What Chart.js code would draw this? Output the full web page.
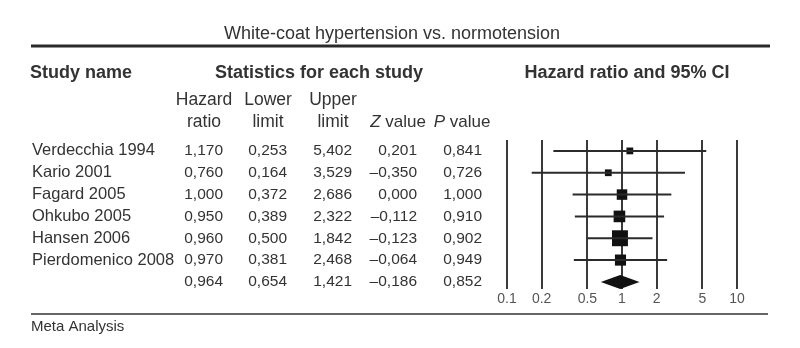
<!DOCTYPE html>
<html>
<head>
<meta charset="utf-8">
<script src="https://cdn.jsdelivr.net/npm/chart.js"></script>
<style>
  body { margin: 0; background: #fff; }
  canvas { display: block; }
</style>
</head>
<body>
<canvas id="forest-chart" width="800" height="348"></canvas>
<script>
// Values
const studies = ["Verdecchia 1994", "Kario 2001", "Fagard 2005", "Ohkubo 2005", "Hansen 2006", "Pierdomenico 2008"];
const hazardRatio = [1.170, 0.760, 1.000, 0.950, 0.960, 0.970];
const lowerLimit = [0.253, 0.164, 0.372, 0.389, 0.500, 0.381];
const upperLimit = [5.402, 3.529, 2.686, 2.322, 1.842, 2.468];
const zValue = [0.201, -0.350, 0.000, -0.112, -0.123, -0.064];
const pValue = [0.841, 0.726, 1.000, 0.910, 0.902, 0.949];

// pooled (meta analysis) row
const pooledHr = 0.964;
const pooledLower = 0.654;
const pooledUpper = 1.421;
const pooledZ = -0.186;
const pooledP = 0.852;

const xTicks = [0.1, 0.2, 0.5, 1, 2, 5, 10];

const FONT = "'Liberation Sans', Arial, sans-serif";
const TEXT = "#333";

// square area follows study weight (1 / SE^2 of log HR)
const weights = studies.map((s, i) => {
  const se = (Math.log(upperLimit[i]) - Math.log(lowerLimit[i])) / (2 * 1.96);
  return 1 / (se * se);
});
const boxRadius = weights.map((w) => (5.3 * Math.sqrt(w)) / 2 / Math.SQRT1_2);

function fmt(v) {
  return v.toFixed(3).replace(".", ",").replace("-", "\u2013");
}

const ciDatasets = studies.map((s, i) => ({
  type: "line",
  data: [{ x: lowerLimit[i], y: i }, { x: upperLimit[i], y: i }],
  borderColor: "#2b2b2b",
  borderWidth: 2,
  pointRadius: 0,
}));

const forestPlugin = {
  id: "forestTable",
  beforeDatasetsDraw(chart) {
    const { ctx, chartArea, scales } = chart;
    ctx.save();
    ctx.strokeStyle = "#3a3a3a";
    ctx.lineWidth = 2;
    xTicks.forEach((t) => {
      const x = Math.round(scales.x.getPixelForValue(t));
      ctx.beginPath();
      ctx.moveTo(x, chartArea.top);
      ctx.lineTo(x, chartArea.bottom);
      ctx.stroke();
    });
    ctx.restore();
  },
  afterDatasetsDraw(chart) {
    // summary diamond
    const { ctx, scales } = chart;
    const yc = scales.y.getPixelForValue(studies.length);
    ctx.save();
    ctx.fillStyle = "#111";
    ctx.beginPath();
    ctx.moveTo(scales.x.getPixelForValue(pooledLower), yc);
    ctx.lineTo(scales.x.getPixelForValue(pooledHr), yc - 7);
    ctx.lineTo(scales.x.getPixelForValue(pooledUpper), yc);
    ctx.lineTo(scales.x.getPixelForValue(pooledHr), yc + 7);
    ctx.closePath();
    ctx.fill();
    ctx.restore();
  },
  afterDraw(chart) {
    const { ctx, scales } = chart;
    const colRight = [223, 287, 352, 417, 482];
    ctx.save();
    ctx.fillStyle = TEXT;
    ctx.textBaseline = "middle";

    // title and rules
    ctx.font = "18px " + FONT;
    ctx.textAlign = "center";
    ctx.fillText("White-coat hypertension vs. normotension", 392, 34);
    ctx.strokeStyle = "#2a2a2a";
    ctx.lineWidth = 3;
    ctx.beginPath();
    ctx.moveTo(31, 46);
    ctx.lineTo(770, 46);
    ctx.stroke();
    ctx.strokeStyle = "#666";
    ctx.lineWidth = 2;
    ctx.beginPath();
    ctx.moveTo(31, 314);
    ctx.lineTo(768, 314);
    ctx.stroke();

    // headers
    ctx.font = "bold 18px " + FONT;
    ctx.textAlign = "left";
    ctx.fillText("Study name", 30, 73);
    ctx.textAlign = "center";
    ctx.fillText("Statistics for each study", 319, 73);
    ctx.fillText("Hazard ratio and 95% CI", 627, 73);

    ctx.font = "17.5px " + FONT;
    [["Hazard", "ratio"], ["Lower", "limit"], ["Upper", "limit"]].forEach((h, i) => {
      const cx = colRight[i] - 19;
      ctx.fillText(h[0], cx, 100);
      ctx.fillText(h[1], cx, 122);
    });
    [["Z", " value", 398], ["P", " value", 462]].forEach(([letter, rest, cx]) => {
      ctx.font = "italic 17px " + FONT;
      const w1 = ctx.measureText(letter).width;
      ctx.font = "17px " + FONT;
      const w2 = ctx.measureText(rest).width;
      const x0 = cx - (w1 + w2) / 2;
      ctx.textAlign = "left";
      ctx.font = "italic 17px " + FONT;
      ctx.fillText(letter, x0, 122);
      ctx.font = "17px " + FONT;
      ctx.fillText(rest, x0 + w1, 122);
      ctx.textAlign = "center";
    });

    // table rows
    studies.forEach((name, i) => {
      const y = scales.y.getPixelForValue(i);
      ctx.font = "16.5px " + FONT;
      ctx.textAlign = "left";
      ctx.fillText(name, 32, y);
      ctx.font = "15.5px " + FONT;
      ctx.textAlign = "right";
      [hazardRatio[i], lowerLimit[i], upperLimit[i], zValue[i], pValue[i]].forEach((v, c) => {
        ctx.fillText(fmt(v), colRight[c], y);
      });
    });
    const yp = scales.y.getPixelForValue(studies.length);
    ctx.font = "15.5px " + FONT;
    ctx.textAlign = "right";
    [pooledHr, pooledLower, pooledUpper, pooledZ, pooledP].forEach((v, c) => {
      ctx.fillText(fmt(v), colRight[c], yp);
    });

    // axis tick labels
    ctx.fillStyle = "#555";
    ctx.font = "14px " + FONT;
    ctx.textAlign = "center";
    xTicks.forEach((t) => {
      ctx.fillText(String(t), scales.x.getPixelForValue(t), 299);
    });

    ctx.fillStyle = TEXT;
    ctx.font = "15px " + FONT;
    ctx.textAlign = "left";
    ctx.fillText("Meta Analysis", 31, 327);
    ctx.restore();
  },
};

new Chart(document.getElementById("forest-chart").getContext("2d"), {
  type: "scatter",
  data: {
    datasets: [
      ...ciDatasets,
      {
        data: studies.map((s, i) => ({ x: hazardRatio[i], y: i })),
        pointStyle: "rect",
        pointRadius: boxRadius,
        backgroundColor: "#111",
        borderWidth: 0,
      },
    ],
  },
  options: {
    responsive: false,
    animation: false,
    events: [],
    layout: { padding: { left: 507, right: 63, top: 140, bottom: 59 } },
    plugins: { legend: { display: false }, tooltip: { enabled: false } },
    scales: {
      x: { type: "logarithmic", min: 0.1, max: 10, display: false },
      y: { type: "linear", min: -0.5, max: 6.325, reverse: true, display: false },
    },
  },
  plugins: [forestPlugin],
});
</script>
</body>
</html>
